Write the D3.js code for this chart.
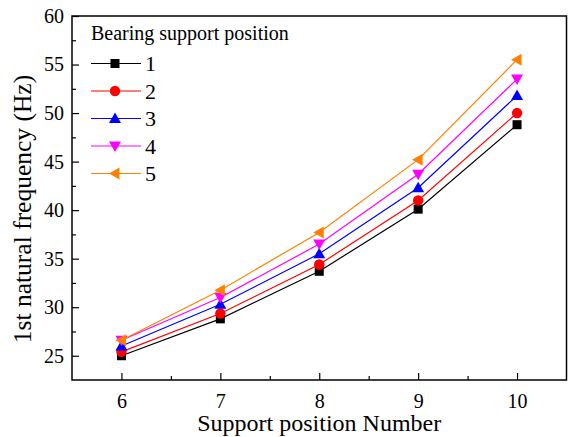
<!DOCTYPE html>
<meta charset="utf-8">
<style>
body { margin: 0; background: #fff; }
svg text { font-family: "Liberation Serif", "DejaVu Serif", serif; font-weight: normal; }
.frame { fill: none; stroke: #000; stroke-width: 1.5px; }
.line { fill: none; stroke-width: 1.2px; }
</style>
<svg width="570" height="437"></svg>
<script src="https://d3js.org/d3.v7.min.js"></script>
<script>

// Data
var positions = [6, 7, 8, 9, 10];
var seriesNames = ["1", "2", "3", "4", "5"];
var freq1 = [25.0, 28.8, 33.7, 40.1, 48.8];
var freq2 = [25.4, 29.35, 34.4, 41.0, 50.0];
var freq3 = [26.0, 30.3, 35.5, 42.3, 51.8];
var freq4 = [26.6, 31.0, 36.5, 43.7, 53.5];
var freq5 = [26.6, 31.75, 37.7, 45.2, 55.5];
var colors = ["#000000", "#ff0000", "#0000ff", "#ff00ff", "#ff8000"];
var yTicks = [25, 30, 35, 40, 45, 50, 55, 60];

var svg = d3.select("svg"),
    margin = {top: 16, right: 3.5, bottom: 57, left: 72},
    width = +svg.attr("width") - margin.left - margin.right,
    height = +svg.attr("height") - margin.top - margin.bottom;

var g = svg.append("g").attr("transform", "translate(" + margin.left + "," + margin.top + ")");

var x = d3.scaleLinear().domain([5.5, 10.5]).range([0, width]),
    y = d3.scaleLinear().domain([22.5, 60]).range([height, 0]);

var series = [freq1, freq2, freq3, freq4, freq5].map(function(v, i) {
  return {id: seriesNames[i], color: colors[i], values: v.map(function(f, j) { return {pos: positions[j], f: f}; })};
});

// axes: ticks point inward, minor ticks at half steps
g.append("g").attr("transform", "translate(0," + height + ")")
    .call(d3.axisBottom(x).tickValues(positions).tickSize(-7).tickPadding(14).tickFormat(d3.format("d")));
g.append("g").attr("transform", "translate(0," + height + ")")
    .call(d3.axisBottom(x).tickValues(d3.range(6.5, 10.5, 1)).tickSize(-4).tickFormat(""));
g.append("g")
    .call(d3.axisLeft(y).tickValues(yTicks).tickSize(-7).tickPadding(8).tickFormat(d3.format("d")));
g.append("g")
    .call(d3.axisLeft(y).tickValues(d3.range(27.5, 60, 5)).tickSize(-4).tickFormat(""));

g.selectAll(".domain").remove();
g.selectAll(".tick line").attr("stroke", "#000").attr("stroke-width", 1.2);
g.selectAll(".tick text").attr("fill", "#000")
    .attr("font-family", "Liberation Serif").attr("font-size", 20);

g.append("rect").attr("class", "frame").attr("width", width).attr("height", height);

var line = d3.line().x(function(d) { return x(d.pos); }).y(function(d) { return y(d.f); });

// marker shapes, one per series
function marker(sel, i) {
  if (i === 0) {
    sel.append("rect").attr("x", -4.5).attr("y", -4.5).attr("width", 9).attr("height", 9);
  } else if (i === 1) {
    sel.append("circle").attr("r", 5.2);
  } else if (i === 2) {
    sel.append("path").attr("d", "M0,-6L6,4.5L-6,4.5Z");
  } else if (i === 3) {
    sel.append("path").attr("d", "M0,6L6,-4.5L-6,-4.5Z");
  } else {
    sel.append("path").attr("d", "M-6,0L4.5,-6L4.5,6Z");
  }
}

var mode = g.selectAll(".mode").data(series).enter().append("g").attr("class", "mode");
mode.append("path").attr("class", "line")
    .attr("d", function(d) { return line(d.values); })
    .style("stroke", function(d) { return d.color; });
mode.each(function(s, i) {
  d3.select(this).selectAll(".pt").data(s.values).enter().append("g")
      .attr("class", "pt")
      .attr("transform", function(d) { return "translate(" + x(d.pos) + "," + y(d.f) + ")"; })
      .attr("fill", s.color)
      .each(function() { marker(d3.select(this), i); });
});

// legend
var legend = svg.append("g").attr("transform", "translate(91,0)");
legend.append("text").attr("x", 0).attr("y", 40).attr("font-size", 20).text("Bearing support position");
series.forEach(function(s, i) {
  var row = legend.append("g").attr("transform", "translate(0," + (63.5 + i * 27.5) + ")");
  row.append("line").attr("x1", 0).attr("x2", 50).attr("stroke", s.color).attr("stroke-width", 1.2);
  var m = row.append("g").attr("transform", "translate(24,0)").attr("fill", s.color);
  marker(m, i);
  row.append("text").attr("x", 54).attr("dy", "0.35em").attr("font-size", 22).text(s.id);
});

// axis titles
svg.append("text")
    .attr("x", margin.left + width / 2).attr("y", 431)
    .attr("text-anchor", "middle").attr("font-size", 24)
    .text("Support position Number");
svg.append("text")
    .attr("transform", "translate(31,209) rotate(-90)")
    .attr("text-anchor", "middle").attr("font-size", 25.5)
    .text("1st natural frequency (Hz)");

</script>
